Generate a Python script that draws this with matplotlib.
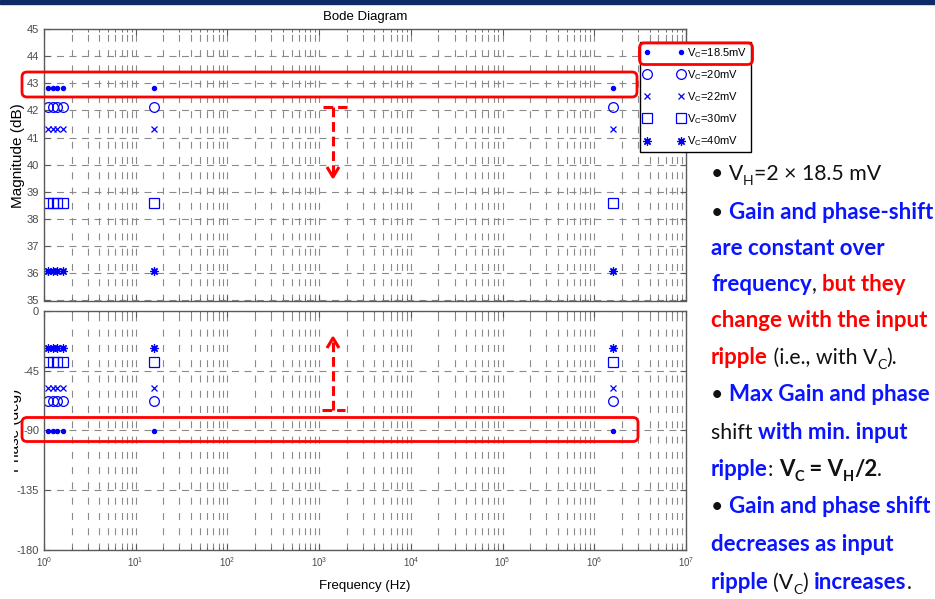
import numpy as np
import matplotlib
matplotlib.use("Agg")
import matplotlib.pyplot as plt
from matplotlib.lines import Line2D
from matplotlib.patches import FancyBboxPatch, Rectangle
from matplotlib.transforms import IdentityTransform, Bbox

W, H = 935, 599

# input ripple cases and the measured response at the sampled frequencies
freq_hz = [1.1, 1.25, 1.4, 1.6, 16.0, 1.6e6]
ripple_labels = ["18.5mV", "20mV", "22mV", "30mV", "40mV"]
gain_db = [42.82, 42.14, 41.30, 38.60, 36.07]
phase_deg = [-90.5, -67.8, -57.8, -38.4, -28.3]
markers = [".", "o", "x", "s", (8, 2, 0)]
marker_sizes = [6, 7, 4, 7, 6]

plt.rcParams["font.family"] = ["Liberation Sans", "DejaVu Sans"]
plt.rcParams["lines.scale_dashes"] = False
plt.rcParams["axes.unicode_minus"] = False

fig = plt.figure(figsize=(W / 100, H / 100), dpi=100)
ax_mag = fig.add_axes([44 / W, 1 - 300.5 / H, 642 / W, 271.5 / H])
ax_ph = fig.add_axes([44 / W, 1 - 550 / H, 642 / W, 239.3 / H], sharex=ax_mag)

blue = "#0000ff"
frame = "#5a5a5a"
gcol = "#8a8a8a"

for i, lab in enumerate(ripple_labels):
    mfc = blue if markers[i] == "." else "none"
    ax_mag.plot(freq_hz, [gain_db[i]] * len(freq_hz), linestyle="none",
                marker=markers[i], ms=marker_sizes[i], mfc=mfc, mec=blue,
                mew=0.9, label=r"V$\mathregular{_C}$=" + lab)
    ax_ph.plot(freq_hz, [phase_deg[i]] * len(freq_hz), linestyle="none",
               marker=markers[i], ms=marker_sizes[i], mfc=mfc, mec=blue,
               mew=0.9)

for ax in (ax_mag, ax_ph):
    ax.set_xscale("log")
    ax.set_xlim(1, 1e7)
    ax.grid(True, which="both", axis="x", color=gcol, lw=0.8,
            linestyle=(0, (5, 6)))
    ax.grid(True, which="major", axis="y", color=gcol, lw=0.8,
            linestyle=(0, (5, 4)))
    ax.tick_params(which="both", direction="in", top=True, right=True,
                   colors=frame, labelcolor="#4a4a4a", labelsize=8)
    ax.tick_params(which="major", length=4)
    ax.tick_params(which="minor", length=2)
    for s in ax.spines.values():
        s.set_color(frame)
        s.set_linewidth(1.0)

ax_mag.set_ylim(35, 45)
ax_mag.set_yticks(np.arange(35, 46, 1))
ax_mag.tick_params(labelbottom=False)
ax_ph.set_ylim(-180, 0)
ax_ph.set_yticks([-180, -135, -90, -45, 0])
ax_ph.set_xticks([10.0 ** k for k in range(8)])
ax_ph.set_xticklabels([r"$\mathregular{10^{%d}}$" % k for k in range(8)],
                      fontsize=7)

fig.text(365 / W, 1 - 17 / H, "Bode Diagram", ha="center", va="center",
         fontsize=9.5)
fig.text(365 / W, 1 - 586 / H, "Frequency (Hz)", ha="center", va="center",
         fontsize=9.5)
fig.text(18 / W, 1 - 156 / H, "Magnitude (dB)", ha="center", va="center",
         rotation=90, fontsize=11)
ph_lab = fig.text(15 / W, 1 - 430 / H, "Phase (deg)", ha="center",
                  va="center", rotation=90, fontsize=11)
# the left edge of the phase label is cut off
ph_lab.set_clip_box(Bbox.from_extents(14, 0, W, H))
ph_lab.set_clip_on(True)

leg = ax_mag.legend(loc="upper left", bbox_to_anchor=(640 / W, 1 - 42 / H),
                    bbox_transform=fig.transFigure, numpoints=2,
                    handlelength=3.6, handletextpad=0.3, labelspacing=0.75,
                    borderpad=0.35, borderaxespad=0, fontsize=8,
                    fancybox=False, framealpha=1)
leg.get_frame().set_edgecolor("black")
leg.get_frame().set_linewidth(1.0)

# overlay drawn in pixel coordinates (origin top-left)
ident = IdentityTransform()


def box(x0, y0, x1, y1):
    p = FancyBboxPatch((x0, H - y1), x1 - x0, y1 - y0,
                       boxstyle="round,pad=0,rounding_size=5",
                       transform=ident, fill=False, ec="#ff0000", lw=2.0,
                       zorder=20)
    fig.patches.append(p)


def seg(xs, ys, dashed=False):
    ln = Line2D(xs, [H - y for y in ys], transform=ident, color="#ff0000",
                lw=2.2, zorder=20, solid_capstyle="butt",
                linestyle=(0, (7, 3.5)) if dashed else "-")
    fig.lines.append(ln)


fig.patches.append(Rectangle((0, H - 3.5), W, 3.5, transform=ident,
                             color="#0d2b66", zorder=30))

box(22, 72, 637, 97)
box(22, 417.5, 638, 441.5)
box(639.5, 43, 752.5, 64.5)

# dashed arrows between the boxed rows
seg([323, 347], [107, 107], dashed=True)
seg([333, 333], [107, 175], dashed=True)
seg([327, 333, 339], [167, 177, 167])
seg([322, 345], [409.5, 409.5], dashed=True)
seg([333, 333], [409.5, 340], dashed=True)
seg([327, 333, 339], [348, 338, 348])

# annotation text on the right
TF = ["Lato", "DejaVu Sans"]
FS_N = 15.3
FS_B = 16
BLUE = "#0a14ff"
RED = "#ff0000"
BLK = "#111111"
renderer = fig.canvas.get_renderer()


def text_width(s, bold, size):
    t = fig.text(0, 0, s + "|", fontsize=size, family=TF,
                 fontweight="bold" if bold else "normal")
    bar = fig.text(0, 0, "|", fontsize=size, family=TF,
                   fontweight="bold" if bold else "normal")
    w = t.get_window_extent(renderer).width - bar.get_window_extent(renderer).width
    t.remove()
    bar.remove()
    return w


def draw_line(y, parts, x=711):
    for s, col, bold, sub in parts:
        size = FS_B if bold else FS_N
        if sub:
            size *= 0.66
        yy = y + (5 if sub else 0)
        fig.text(x / W, 1 - yy / H, s, fontsize=size, family=TF, color=col,
                 fontweight="bold" if bold else "normal", va="baseline")
        x += text_width(s, bold, size)


lines = [
    (180, [("\u2022 V", BLK, False, False), ("H", BLK, False, True),
           ("=2 \u00d7 18.5 mV", BLK, False, False)]),
    (219, [("\u2022 ", BLK, False, False),
           ("Gain and phase-shift", BLUE, True, False)]),
    (255, [("are constant over", BLUE, True, False)]),
    (291, [("frequency", BLUE, True, False), (", ", BLK, False, False),
           ("but they", RED, True, False)]),
    (327, [("change with the input", RED, True, False)]),
    (364, [("ripple", RED, True, False), (" (i.e., with V", BLK, False, False),
           ("C", BLK, False, True), (").", BLK, False, False)]),
    (401, [("\u2022 ", BLK, False, False),
           ("Max Gain and phase", BLUE, True, False)]),
    (439, [("shift ", BLK, False, False),
           ("with min. input", BLUE, True, False)]),
    (476, [("ripple", BLUE, True, False), (": ", BLK, False, False),
           ("V", BLK, True, False), ("C", BLK, True, True),
           (" = V", BLK, True, False), ("H", BLK, True, True),
           ("/2", BLK, True, False), (".", BLK, False, False)]),
    (513, [("\u2022 ", BLK, False, False),
           ("Gain and phase shift", BLUE, True, False)]),
    (551, [("decreases as input", BLUE, True, False)]),
    (589, [("ripple ", BLUE, True, False), ("(V", BLK, False, False),
           ("C", BLK, False, True), (") ", BLK, False, False),
           ("increases", BLUE, True, False), (".", BLK, False, False)]),
]
for y, parts in lines:
    draw_line(y, parts)

fig.savefig("out.png", dpi=100)
